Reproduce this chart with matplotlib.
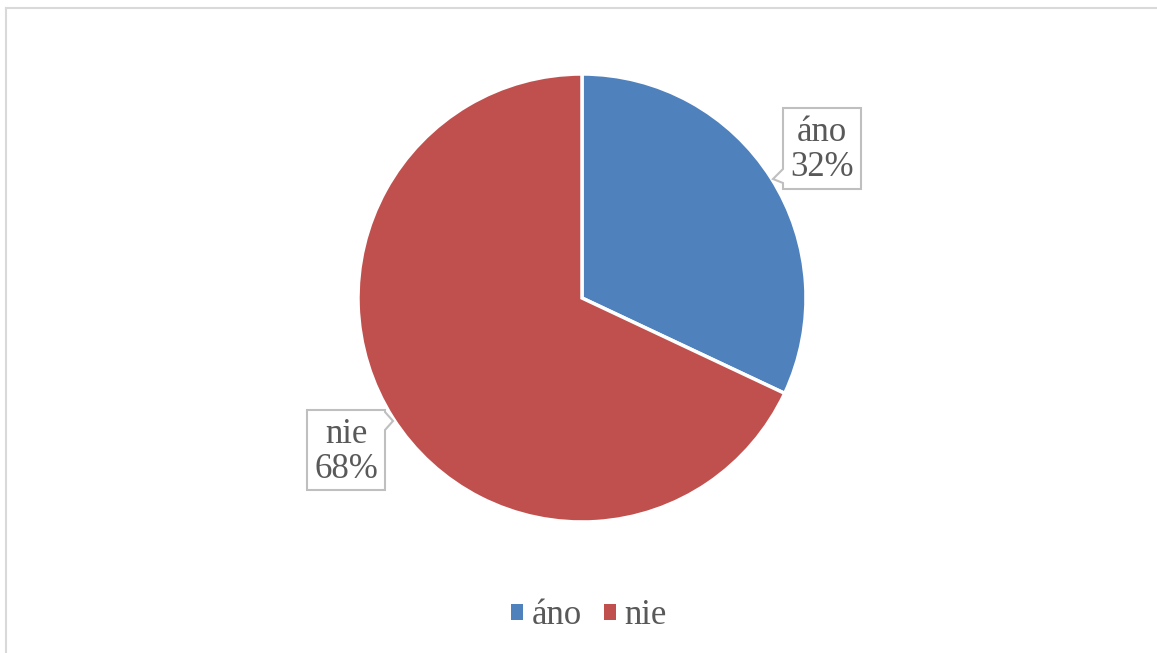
import matplotlib
matplotlib.use('Agg')
import matplotlib.pyplot as plt
from matplotlib.patches import Polygon, Patch
from matplotlib.lines import Line2D

labels = ['áno', 'nie']
values = [32, 68]
colors = ['#4F81BD', '#C0504D']

W, H = 1157, 653
plt.rcParams['font.family'] = ['Liberation Serif', 'DejaVu Serif']
txt_color = '#595959'

fig = plt.figure(figsize=(W / 100, H / 100), dpi=100)
ax = fig.add_axes([0, 0, 1, 1])

def py(y):
    # pixel row -> data y
    return H - y

ax.pie(values, colors=colors, startangle=90, counterclock=False,
       center=(582, py(298)), radius=224,
       wedgeprops=dict(edgecolor='white', linewidth=2.5))

ax.set_xlim(0, W)
ax.set_ylim(0, H)
ax.set_aspect('equal')
ax.axis('off')

# outer chart border
ax.add_line(Line2D([6, 6], [py(653), py(8)], color='#D9D9D9', lw=1.5))
ax.add_line(Line2D([6, W], [py(8), py(8)], color='#D9D9D9', lw=1.5))

# callouts
box_ano = [(783, 108), (861, 108), (861, 189), (783, 189), (783, 183),
           (773, 179), (783, 169)]
box_nie = [(307, 410), (385, 410), (385, 412), (393, 421), (385, 430),
           (385, 490), (307, 490)]
for pts in (box_ano, box_nie):
    ax.add_patch(Polygon([(x, py(y)) for x, y in pts], closed=True,
                         facecolor='white', edgecolor='#BFBFBF', lw=1.5, zorder=3))

ax.text(822, py(150), f'{labels[0]}\n{values[0]}%', ha='center', va='center',
        fontsize=25, color=txt_color, linespacing=1.08, zorder=4)
ax.text(346, py(452), f'{labels[1]}\n{values[1]}%', ha='center', va='center',
        fontsize=25, color=txt_color, linespacing=1.08, zorder=4)

handles = [Patch(facecolor=c, edgecolor='none') for c in colors]
ax.legend(handles, labels, loc='center', bbox_to_anchor=(589 / W, 1 - 616 / H),
          ncol=2, frameon=False, fontsize=25, labelcolor=txt_color,
          handlelength=0.33, handleheight=0.33, handletextpad=0.25,
          columnspacing=0.65)

fig.savefig('out.png', dpi=100, facecolor='white')
